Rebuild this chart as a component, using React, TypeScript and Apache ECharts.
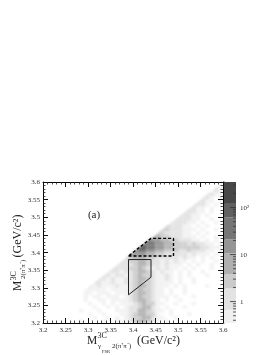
import React, { useEffect, useRef } from "react";
import * as echarts from "echarts";

const FONT = '"Liberation Serif"';
const binSize = 0.01;
const axisMin = 3.2;

// Colour-bar contour edges (counts), from the bar in the picture.
const contourEdges = [0.35, 0.67, 1.9, 3.8, 10.7, 21, 62, 120, 350];
const contourGrays = ["#f0f0f0", "#e3e3e3", "#cbcbcb", "#b0b0b0", "#959595", "#767676", "#606060", "#484848"];
// Average gray of the speckled picture at each digit of the density rows.
const densityGrays = ["#ffffff", "#f2f2f2", "#e3e3e3", "#cecece", "#b4b4b4", "#989898", "#787878", "#5e5e5e", "#484848"];

const majorBarTicks = [1, 10, 100];
const minorBarTicks = [0.4, 0.5, 0.6, 0.7, 0.8, 0.9, 2, 3, 4, 5, 6, 7, 8, 9, 20, 30, 40, 50, 60, 70, 80, 90, 200, 300];

// Estimated density, from y=3.59 down to y=3.20; each row ends at x=3.59.
const densityRows = [
  "1",
  "21",
  "121",
  "2211",
  "22101",
  "221101",
  "2221010",
  "22110100",
  "222110100",
  "2221101000",
  "22221100100",
  "222211010010",
  "3222110101000",
  "33222111010010",
  "332222110101000",
  "4433222111010010",
  "65544332221101010",
  "766554433323221101",
  "7766554433333322111",
  "66655443332232221101",
  "555544332222212111010",
  "3344433222221211010100",
  "22334432212121101010010",
  "222234432212111010100100",
  "2222334321212110101000100",
  "22212234432121101010010000",
  "221221234332112101010001000",
  "2212112234432112101001000000",
  "22112112234332111101001000000",
  "212111211234432111010100001000",
  "1111101111234332110100100000000",
  "01101110111234432110100100000000",
  "001011011101234332111010001000000",
  "0001001101111234432101001000000000",
  "00000100101011123433110010001000000",
  "000000010010101223442101000100000000",
  "0000010001000111224432110100000000000",
  "00000000100100011234433100100010000000",
  "000000000010010101233442110010000000000",
  "0000000010000100111234432101000000000000",
];

const solidRegion = [[3.39, 3.38], [3.44, 3.38], [3.44, 3.33], [3.39, 3.28], [3.39, 3.38]];
const dashedRegion = [[3.39, 3.39], [3.49, 3.39], [3.49, 3.44], [3.44, 3.44], [3.39, 3.39]];

const cells: number[][] = [];
densityRows.forEach((row, r) => {
  const j = 39 - r;
  const full = row.padStart(40, "0");
  for (let i = 0; i < 40; i++) {
    const level = Number(full[i]);
    if (level > 0) cells.push([axisMin + i * binSize, axisMin + j * binSize, level, i === j ? 1 : 0]);
  }
});

const barBands = contourGrays.map((_, i) => [contourEdges[i], contourEdges[i + 1], i]);
const barTicks = [
  ...majorBarTicks.map((v) => [v, 6]),
  ...minorBarTicks.map((v) => [v, 3]),
];

const tickLabel = (v: number) => String(Number(v.toFixed(2)));

const mainGrid = { left: 43, top: 182, width: 180, height: 141 };

const mainAxisCommon = {
  type: "value",
  min: 3.2,
  max: 3.6,
  interval: 0.05,
  splitLine: { show: false },
  axisLine: { show: true, onZero: false, lineStyle: { color: "#000", width: 1 } },
  axisTick: { show: true, inside: true, length: 5, lineStyle: { color: "#111", width: 1 } },
  minorTick: { show: true, splitNumber: 5, length: 2.5, lineStyle: { color: "#222", width: 0.8 } },
  minorSplitLine: { show: false },
};

const txt = (text: string, x: number, y: number, size: number, align = "left") => ({
  type: "text",
  x,
  y,
  silent: true,
  style: { text, font: `${size}px ${FONT}`, fill: "#222", textAlign: align, textVerticalAlign: "middle" },
});

export default function App() {
  const backRef = useRef<HTMLDivElement>(null);
  const frontRef = useRef<HTMLDivElement>(null);
  useEffect(() => {
    document.body.style.margin = "0";
    document.body.style.background = "#fff";
    const back = echarts.init(backRef.current!, null, { renderer: "svg" });
    back.setOption({
      animation: false,
      grid: mainGrid,
      xAxis: { type: "value", min: 3.2, max: 3.6, show: false },
      yAxis: { type: "value", min: 3.2, max: 3.6, show: false },
      series: [
        {
          type: "custom",
          silent: true,
          data: cells,
          renderItem: (_: any, api: any) => {
            const x = api.value(0);
            const y = api.value(1);
            const fill = densityGrays[api.value(2)];
            const lowLeft = api.coord([x, y]);
            const lowRight = api.coord([x + binSize, y]);
            const upRight = api.coord([x + binSize, y + binSize]);
            const upLeft = api.coord([x, y + binSize]);
            const points = api.value(3) === 1 ? [lowLeft, lowRight, upRight] : [lowLeft, lowRight, upRight, upLeft];
            return { type: "polygon", shape: { points }, style: { fill } };
          },
        },
      ],
    });
    const chart = echarts.init(frontRef.current!, null, { renderer: "svg" });
    chart.setOption({
      animation: false,
      grid: [mainGrid, { left: 224, top: 182, width: 12, height: 141 }],
      xAxis: [
        {
          ...mainAxisCommon,
          position: "bottom",
          axisLabel: { fontFamily: FONT, fontSize: 7, color: "#333", margin: 3, formatter: tickLabel },
        },
        { ...mainAxisCommon, position: "top", axisLabel: { show: false } },
        { gridIndex: 1, type: "value", min: 0, max: 1, show: false },
      ],
      yAxis: [
        {
          ...mainAxisCommon,
          position: "left",
          axisLabel: { fontFamily: FONT, fontSize: 7, color: "#333", margin: 3, formatter: tickLabel },
        },
        { ...mainAxisCommon, position: "right", axisLabel: { show: false } },
        {
          gridIndex: 1,
          type: "log",
          logBase: 10,
          min: 0.35,
          max: 350,
          position: "right",
          splitLine: { show: false },
          axisLine: { show: true, lineStyle: { color: "#777", width: 1 } },
          axisTick: { show: false },
          axisLabel: {
            fontFamily: FONT,
            fontSize: 7,
            color: "#333",
            margin: 4,
            showMinLabel: false,
            showMaxLabel: false,
            formatter: (v: number) => (v === 1 ? "1" : v === 10 ? "10" : v === 100 ? "10²" : ""),
          },
        },
      ],
      series: [
        {
          type: "line",
          xAxisIndex: 0,
          yAxisIndex: 0,
          data: solidRegion,
          symbol: "none",
          silent: true,
          z: 3,
          lineStyle: { color: "#222", width: 1 },
        },
        {
          type: "line",
          xAxisIndex: 0,
          yAxisIndex: 0,
          data: dashedRegion,
          symbol: "none",
          silent: true,
          z: 3,
          lineStyle: { color: "#000", width: 1.4, type: [3, 2] },
        },
        {
          type: "custom",
          xAxisIndex: 2,
          yAxisIndex: 2,
          silent: true,
          z: 1,
          data: barBands,
          renderItem: (_: any, api: any) => {
            const a = api.coord([0, api.value(1)]);
            const b = api.coord([1, api.value(0)]);
            return {
              type: "rect",
              shape: { x: a[0], y: a[1], width: b[0] - a[0], height: b[1] - a[1] },
              style: { fill: contourGrays[api.value(2)] },
            };
          },
        },
        {
          type: "custom",
          xAxisIndex: 2,
          yAxisIndex: 2,
          silent: true,
          z: 4,
          data: barTicks,
          renderItem: (_: any, api: any) => {
            const p = api.coord([1, api.value(0)]);
            return {
              type: "line",
              shape: { x1: p[0], y1: p[1], x2: p[0] - api.value(1), y2: p[1] },
              style: { stroke: "#333", lineWidth: 0.8 },
            };
          },
        },
      ],
      graphic: [
        txt("(a)", 94, 214, 11, "center"),
        txt("M", 87, 340, 11.5),
        txt("3C", 97.5, 335, 8),
        txt("γ", 98, 346, 7),
        txt("FSR", 102, 351, 4.5),
        txt("2(π⁺π⁻)", 112, 345.5, 7),
        txt("(GeV/c²)", 137, 340, 12),
        {
          type: "group",
          x: 17,
          y: 291,
          rotation: Math.PI / 2,
          children: [
            txt("M", 0, 0, 11.5),
            txt("3C", 10.5, -4, 8),
            txt("2(π⁺π⁻)", 12, 5.5, 7),
            txt("(GeV/c²)", 33.5, 0, 12),
          ],
        },
      ],
    });
    return () => {
      back.dispose();
      chart.dispose();
    };
  }, []);
  const layer: React.CSSProperties = { position: "absolute", left: 0, top: 0, width: 274, height: 355 };
  return (
    <div style={{ position: "relative", width: 274, height: 355 }}>
      <div ref={backRef} style={{ ...layer, filter: "blur(0.9px)" }} />
      <div ref={frontRef} style={{ ...layer, filter: "blur(0.35px)" }} />
    </div>
  );
}
